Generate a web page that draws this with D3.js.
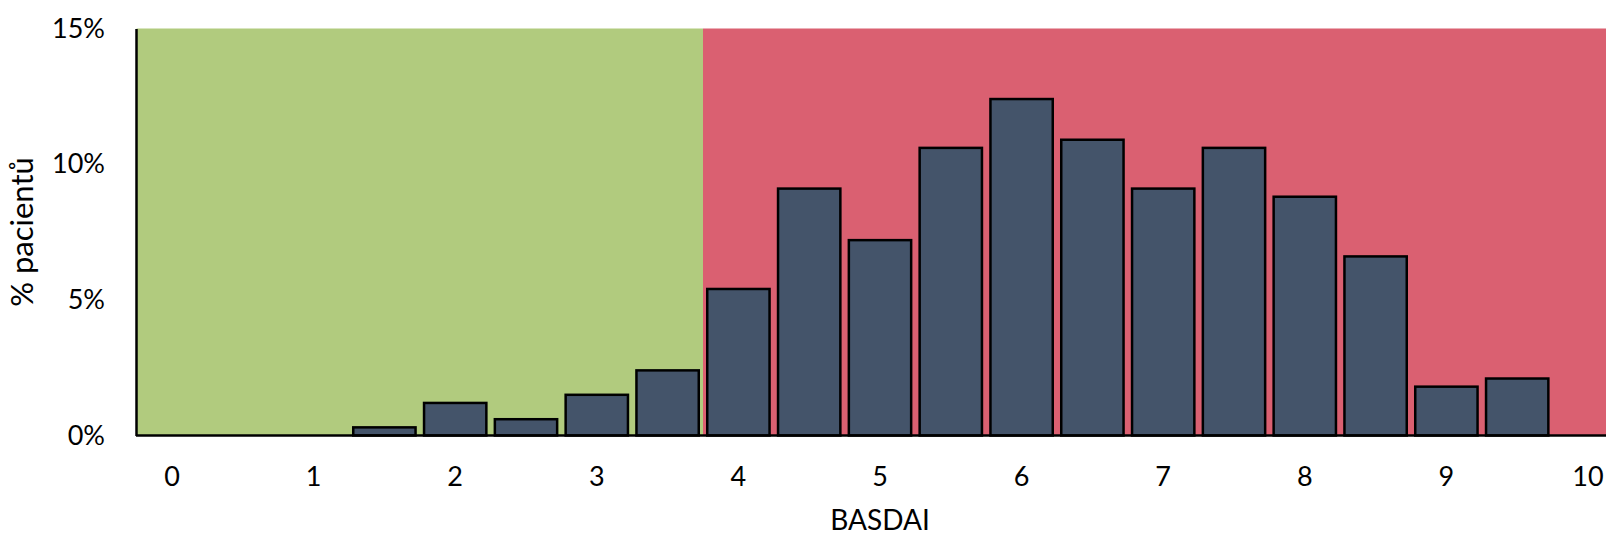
<!DOCTYPE html>
<html>
<head>
<meta charset="utf-8">
<script src="https://cdn.jsdelivr.net/npm/d3@7"></script>
<style>
  html, body { margin: 0; padding: 0; background: #fff; }
  svg { display: block; }
  text { font-family: Lato, "Open Sans", sans-serif; fill: #000; }
</style>
</head>
<body>
<svg id="chart" width="1606" height="536"></svg>
<script>
// BASDAI score bins (step 0.5) and share of patients in each bin, in percent
const categories = ["0","0.5","1","1.5","2","2.5","3","3.5","4","4.5","5",
                    "5.5","6","6.5","7","7.5","8","8.5","9","9.5","10"];
const shares = [0, 0, 0, 0.3, 1.2, 0.6, 1.5, 2.4, 5.4, 9.1, 7.2,
                10.6, 12.4, 10.9, 9.1, 10.6, 8.8, 6.6, 1.8, 2.1, 0];
const xTickLabels = ["0","1","2","3","4","5","6","7","8","9","10"];
const yTicks = [0, 5, 10, 15];
// Disease-activity zones: low activity below 4, high activity from 4 up
const zoneStarts = ["0", "4"];
const zoneEnds = ["3.5", "10"];
const zoneColors = ["#B1CB7E", "#DA6071"];

const svg = d3.select("#chart");

const x = d3.scaleBand()
  .domain(categories)
  .range([136.6, 1623.4])
  .paddingInner(0.12)
  .paddingOuter(0.06);

const y = d3.scaleLinear()
  .domain([0, 15])
  .range([435.5, 28.5]);

const step = x.step();
const left = x.range()[0];
const bandStart = c => left + categories.indexOf(c) * step;
const bandEnd = c => left + (categories.indexOf(c) + 1) * step;

// background zones
svg.append("g").selectAll("rect")
  .data(zoneStarts.map((s, i) => ({ s, e: zoneEnds[i], color: zoneColors[i] })))
  .join("rect")
  .attr("x", d => bandStart(d.s))
  .attr("width", d => bandEnd(d.e) - bandStart(d.s))
  .attr("y", y(15))
  .attr("height", y(0) - y(15))
  .attr("fill", d => d.color);

// bars
svg.append("g").selectAll("rect")
  .data(categories.map((c, i) => ({ c, v: shares[i] })).filter(d => d.v > 0))
  .join("rect")
  .attr("x", d => x(d.c))
  .attr("width", x.bandwidth())
  .attr("y", d => y(d.v))
  .attr("height", d => y(0) - y(d.v))
  .attr("fill", "#44546A")
  .attr("stroke", "#000")
  .attr("stroke-width", 2.5);

// x axis
const xAxis = svg.append("g")
  .attr("transform", `translate(0,${y(0)})`)
  .call(d3.axisBottom(x)
    .tickValues(xTickLabels)
    .tickSize(0)
    .tickPadding(31));
xAxis.select(".domain").attr("stroke", "#000").attr("stroke-width", 2.5)
  .attr("d", `M${136},0H${1606}`);
xAxis.selectAll("text")
  .style("font-family", "Lato, 'Open Sans', sans-serif")
  .style("font-size", "27px");

// y axis
const yAxis = svg.append("g")
  .attr("transform", `translate(136,0)`)
  .call(d3.axisLeft(y)
    .tickValues(yTicks)
    .tickFormat(d => d + "%")
    .tickSize(0)
    .tickPadding(31));
yAxis.select(".domain").attr("stroke", "#000").attr("stroke-width", 2.5);
yAxis.selectAll("text")
  .style("font-family", "Lato, 'Open Sans', sans-serif")
  .style("font-size", "27px");

// axis titles
svg.append("text")
  .attr("x", (x.range()[0] + x.range()[1]) / 2)
  .attr("y", 530)
  .attr("text-anchor", "middle")
  .style("font-size", "28px")
  .text("BASDAI");

svg.append("text")
  .attr("transform", `translate(33,232) rotate(-90)`)
  .attr("text-anchor", "middle")
  .style("font-size", "31px")
  .text("% pacientů");
</script>
</body>
</html>
